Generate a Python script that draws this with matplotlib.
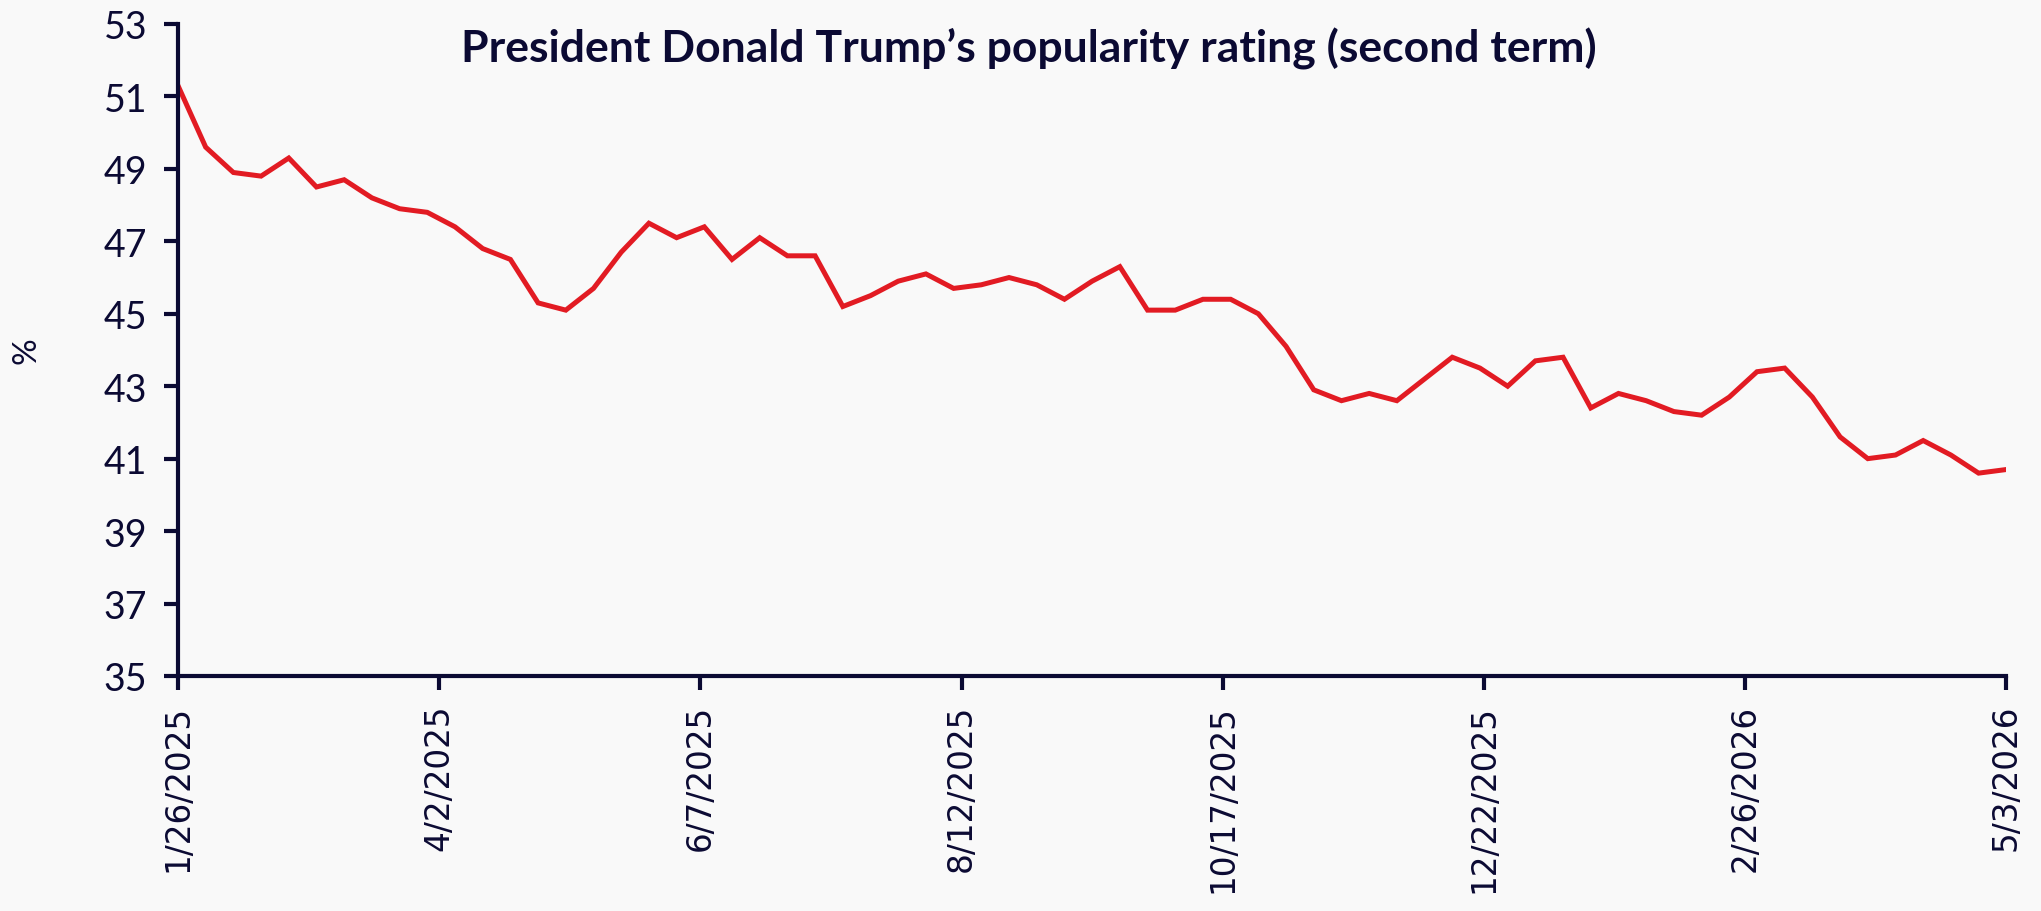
import matplotlib
matplotlib.use("Agg")
import matplotlib.pyplot as plt
import pandas as pd

# Weekly approval rating, %, from 1/26/2025 to 5/3/2026
start_date = "2025-01-26"
approval = [
    51.3, 49.6, 48.9, 48.8, 49.3, 48.5, 48.7, 48.2, 47.9, 47.8,
    47.4, 46.8, 46.5, 45.3, 45.1, 45.7, 46.7, 47.5, 47.1, 47.4,
    46.5, 47.1, 46.6, 46.6, 45.2, 45.5, 45.9, 46.1, 45.7, 45.8,
    46.0, 45.8, 45.4, 45.9, 46.3, 45.1, 45.1, 45.4, 45.4, 45.0,
    44.1, 42.9, 42.6, 42.8, 42.6, 43.2, 43.8, 43.5, 43.0, 43.7,
    43.8, 42.4, 42.8, 42.6, 42.3, 42.2, 42.7, 43.4, 43.5, 42.7,
    41.6, 41.0, 41.1, 41.5, 41.1, 40.6, 40.7,
]
tick_dates = ["2025-01-26", "2025-04-02", "2025-06-07", "2025-08-12",
              "2025-10-17", "2025-12-22", "2026-02-26", "2026-05-03"]
y_ticks = [35, 37, 39, 41, 43, 45, 47, 49, 51, 53]
title = "President Donald Trump\u2019s popularity rating (second term)"

dates = pd.date_range(start_date, periods=len(approval), freq="7D")
ticks = pd.to_datetime(tick_dates)

navy = "#0b0a33"
red = "#e21b23"
bg = "#f9f9f9"

fig = plt.figure(figsize=(20.41, 9.12), dpi=100, facecolor=bg)
ax = fig.add_axes([0.0872, 0.2577, 0.8958, 0.7149], facecolor=bg)

ax.plot(dates, approval, color=red, linewidth=3.6, solid_joinstyle="miter")

ax.set_xlim(dates[0], dates[-1])
ax.set_ylim(35, 53)
ax.set_yticks(y_ticks)
ax.set_xticks(ticks)
ax.set_xticklabels([f"{d.month}/{d.day}/{d.year}" for d in ticks],
                   rotation=90, fontsize=23.5, family="DejaVu Sans", color=navy)
ax.set_yticklabels([str(v) for v in y_ticks], fontsize=27,
                   family="Lato", color=navy)

for side in ("top", "right"):
    ax.spines[side].set_visible(False)
for side in ("left", "bottom"):
    ax.spines[side].set_color(navy)
    ax.spines[side].set_linewidth(3)
ax.tick_params(axis="both", direction="out", length=10, width=3, color=navy)
ax.tick_params(axis="y", pad=12)
ax.tick_params(axis="x", pad=10)

fig.text(0.0128, 0.615, "%", rotation=90, fontsize=24, family="Lato",
         color=navy, ha="center", va="center")
fig.text(0.504, 0.946, title, fontsize=32, family="Lato", weight="bold",
         color=navy, ha="center", va="center")

fig.savefig("out.png", dpi=100, facecolor=bg)
